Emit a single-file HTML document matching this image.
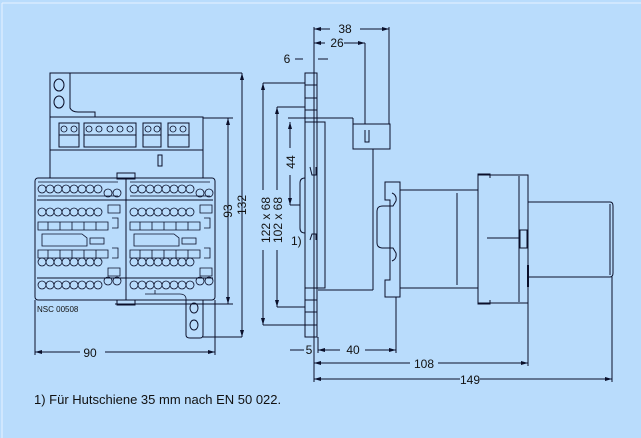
<!DOCTYPE html>
<html><head><meta charset="utf-8"><style>
html,body{margin:0;padding:0;background:#b9dcfc;}
svg{display:block}
text{font-family:"Liberation Sans",Arial,sans-serif;fill:#111;}
</style></head><body>
<svg width="641" height="438" viewBox="0 0 641 438" xmlns="http://www.w3.org/2000/svg">
<rect x="0" y="0" width="641" height="438" fill="#b9dcfc"/>
<line x1="2" y1="3" x2="2" y2="438" stroke="#e8f2ff" stroke-width="1"/>
<line x1="2" y1="3" x2="641" y2="3" stroke="#e8f2ff" stroke-width="1"/>
<g fill="none" stroke="#0a0f2a" stroke-width="1">
<!-- LEFT VIEW -->
<path d="M50,178 V73 H70 V108 Q72,112 78,112 H95 V117"/>
<ellipse cx="59" cy="85" rx="5" ry="6"/><ellipse cx="59" cy="102" rx="5" ry="6"/>
<rect x="50" y="117" width="153" height="33"/>
<line x1="203" y1="150" x2="203" y2="178"/>
<line x1="70" y1="73" x2="242" y2="73"/>
<line x1="203" y1="118" x2="233" y2="118"/>
<rect x="59" y="123" width="20" height="24"/><line x1="59" y1="135" x2="79" y2="135"/>
<rect x="84" y="123" width="52" height="24"/><line x1="84" y1="135" x2="136" y2="135"/>
<rect x="143" y="123" width="18" height="24"/><line x1="143" y1="135" x2="161" y2="135"/>
<rect x="168" y="123" width="21" height="24"/><line x1="168" y1="135" x2="189" y2="135"/>
<g stroke-width="0.8">
<circle cx="64" cy="129" r="3"/><circle cx="74" cy="129" r="3"/>
<circle cx="89" cy="129" r="3"/><circle cx="99" cy="129" r="3"/><circle cx="110" cy="129" r="3"/><circle cx="120" cy="129" r="3"/><circle cx="130" cy="129" r="3"/>
<circle cx="148" cy="129" r="3"/><circle cx="157" cy="129" r="3"/>
<circle cx="173" cy="129" r="3"/><circle cx="183" cy="129" r="3"/>
</g>
<rect x="158" y="155" width="4" height="11"/>
<rect x="35" y="178" width="180" height="122" rx="3"/>
<line x1="126" y1="178" x2="126" y2="300"/>
<rect x="117" y="173" width="18" height="6"/>
<rect x="117" y="300" width="18" height="5"/>
<line x1="37" y1="200" x2="213" y2="200"/>
<line x1="37" y1="278" x2="213" y2="278"/>
<g stroke-width="0.8">
<path d="M38,182 h80 M38,196 h80 M130,182 h80 M130,196 h80"/>
<g>
<circle cx="42" cy="189" r="4"/><circle cx="50" cy="189" r="4"/><circle cx="58" cy="189" r="4"/><circle cx="66" cy="189" r="4"/><circle cx="74" cy="189" r="4"/><circle cx="82" cy="189" r="4"/><circle cx="90" cy="189" r="4"/><circle cx="98" cy="189" r="4"/><circle cx="108" cy="193" r="4"/><circle cx="117" cy="193" r="4"/>
<circle cx="134" cy="189" r="4"/><circle cx="142" cy="189" r="4"/><circle cx="150" cy="189" r="4"/><circle cx="158" cy="189" r="4"/><circle cx="166" cy="189" r="4"/><circle cx="174" cy="189" r="4"/><circle cx="182" cy="189" r="4"/><circle cx="190" cy="189" r="4"/><circle cx="200" cy="193" r="4"/><circle cx="209" cy="193" r="4"/>
<circle cx="42" cy="212" r="4"/><circle cx="50" cy="212" r="4"/><circle cx="58" cy="212" r="4"/><circle cx="66" cy="212" r="4"/><circle cx="74" cy="212" r="4"/><circle cx="82" cy="212" r="4"/><circle cx="90" cy="212" r="4"/><circle cx="98" cy="212" r="4"/>
<circle cx="134" cy="212" r="4"/><circle cx="142" cy="212" r="4"/><circle cx="150" cy="212" r="4"/><circle cx="158" cy="212" r="4"/><circle cx="166" cy="212" r="4"/><circle cx="174" cy="212" r="4"/><circle cx="182" cy="212" r="4"/><circle cx="190" cy="212" r="4"/>
<circle cx="42" cy="262" r="4"/><circle cx="50" cy="262" r="4"/><circle cx="58" cy="262" r="4"/><circle cx="66" cy="262" r="4"/><circle cx="74" cy="262" r="4"/><circle cx="82" cy="262" r="4"/><circle cx="90" cy="262" r="4"/><circle cx="98" cy="262" r="4"/>
<circle cx="134" cy="262" r="4"/><circle cx="142" cy="262" r="4"/><circle cx="150" cy="262" r="4"/><circle cx="158" cy="262" r="4"/><circle cx="166" cy="262" r="4"/><circle cx="174" cy="262" r="4"/><circle cx="182" cy="262" r="4"/><circle cx="190" cy="262" r="4"/>
<circle cx="42" cy="285" r="4"/><circle cx="50" cy="285" r="4"/><circle cx="58" cy="285" r="4"/><circle cx="66" cy="285" r="4"/><circle cx="74" cy="285" r="4"/><circle cx="82" cy="285" r="4"/><circle cx="90" cy="285" r="4"/><circle cx="98" cy="285" r="4"/><circle cx="108" cy="281" r="4"/><circle cx="117" cy="281" r="4"/>
<circle cx="134" cy="285" r="4"/><circle cx="142" cy="285" r="4"/><circle cx="150" cy="285" r="4"/><circle cx="158" cy="285" r="4"/><circle cx="166" cy="285" r="4"/><circle cx="174" cy="285" r="4"/><circle cx="182" cy="285" r="4"/><circle cx="190" cy="285" r="4"/><circle cx="200" cy="281" r="4"/><circle cx="209" cy="281" r="4"/>
</g>
<path d="M38,222 h70 v8 h-70z M38,250 h70 v8 h-70z M130,222 h70 v8 h-70z M130,250 h70 v8 h-70z"/>
<path d="M48,222v8M60,222v8M72,222v8M84,222v8M96,222v8 M48,250v8M60,250v8M72,250v8M84,250v8M96,250v8 M140,222v8M152,222v8M164,222v8M176,222v8M188,222v8 M140,250v8M152,250v8M164,250v8M176,250v8M188,250v8"/>
<path d="M42,234 h40 l5,4 v8 h-45z M134,234 h40 l5,4 v8 h-45z"/>
<rect x="90" y="238" width="14" height="6"/><rect x="182" y="238" width="14" height="6"/>
<path d="M108,205 h12 v8 h-12z M108,268 h12 v8 h-12z M200,205 h12 v8 h-12z M200,268 h12 v8 h-12z"/>
<path d="M112,218 h6 v10 h-6 M112,248 h6 v10 h-6 M204,218 h6 v10 h-6 M204,248 h6 v10 h-6"/>
<path d="M145,294 h35 q5,0 6,4 v2"/>
<line x1="155" y1="294" x2="155" y2="290"/>
</g>
<path d="M186,300 V335 Q186,338 190,338 H200 Q203,338 203,335 V300"/>
<ellipse cx="194" cy="308" rx="4" ry="5"/><ellipse cx="194" cy="325" rx="4" ry="5"/>
<line x1="115" y1="304" x2="233" y2="304"/>
<line x1="203" y1="337" x2="242" y2="337"/>
<line x1="242" y1="73" x2="242" y2="337"/>
<line x1="228" y1="118" x2="228" y2="304"/>
<line x1="35" y1="300" x2="35" y2="355"/><line x1="215" y1="300" x2="215" y2="355"/>
<line x1="35" y1="352" x2="80" y2="352"/><line x1="105" y1="352" x2="215" y2="352"/>
<!-- RIGHT VIEW -->
<line x1="314" y1="27" x2="314" y2="382"/>
<rect x="305" y="73" width="12" height="264"/>
<path d="M305,85 h12 M305,98 h12 M305,110 h12 M305,300 h12 M305,312 h12 M305,325 h12"/>
<rect x="305" y="122" width="20" height="166"/>
<line x1="288" y1="118" x2="353" y2="118"/>
<path d="M353,118 V124 H390 V149 H353 Z"/>
<path d="M365,130 v12 h4 v-12"/>
<line x1="373" y1="149" x2="373" y2="290"/><line x1="318" y1="290" x2="373" y2="290"/>
<line x1="389" y1="27" x2="389" y2="124"/><line x1="365" y1="43" x2="365" y2="124"/>
<path d="M305,178 q-5,0 -5,5 v45 q0,5 5,5"/>
<path d="M310,167 l2,8 h4 v-8"/><path d="M310,240 l2,-6 h4 v6"/>
<path d="M385,182 H400 V297 H385 V280 H390 V200 H385 Z"/>
<path d="M392,193 q5,2 4,8 l-3,5 h-10 q-6,0 -6,5 v32 q0,5 6,5 h10 l3,5 q1,6 -4,8"/>
<path d="M400,190 H478 V288 H400"/>
<path d="M478,175 H528 V303 H478 Z"/>
<line x1="519" y1="176" x2="519" y2="302"/>
<path d="M457,193 V285"/>
<path d="M478,178 V174 H490 V178 M478,300 V304 H490 V300"/>
<line x1="487" y1="238" x2="520" y2="238"/>
<rect x="520" y="230" width="7" height="18"/>
<path d="M528,202 H610 Q613,202 613,206 V273 Q613,277 610,277 H528"/>
<line x1="610" y1="204" x2="610" y2="275"/>
<line x1="528" y1="265" x2="528" y2="287" stroke-width="2"/>
<line x1="396" y1="297" x2="396" y2="353"/>
<line x1="528" y1="303" x2="528" y2="366"/>
<line x1="612" y1="277" x2="612" y2="382"/>
<line x1="318" y1="337" x2="318" y2="353"/>
<line x1="314" y1="29" x2="330" y2="29"/><line x1="360" y1="29" x2="389" y2="29"/>
<line x1="314" y1="43" x2="325" y2="43"/><line x1="344" y1="43" x2="365" y2="43"/>
<line x1="295" y1="59" x2="303" y2="59"/><line x1="318" y1="59" x2="328" y2="59"/>
<line x1="263" y1="83" x2="263" y2="190"/><line x1="263" y1="250" x2="263" y2="325"/>
<line x1="263" y1="83" x2="305" y2="83"/><line x1="263" y1="325" x2="305" y2="325"/>
<line x1="277" y1="107" x2="277" y2="190"/><line x1="277" y1="250" x2="277" y2="307"/>
<line x1="277" y1="107" x2="305" y2="107"/><line x1="277" y1="307" x2="305" y2="307"/>
<line x1="290" y1="122" x2="290" y2="148"/><line x1="290" y1="175" x2="290" y2="205"/>
<line x1="290" y1="205" x2="300" y2="205"/>
<line x1="290" y1="350" x2="304" y2="350"/><line x1="318" y1="350" x2="340" y2="350"/><line x1="365" y1="350" x2="396" y2="350"/>
<line x1="314" y1="363" x2="410" y2="363"/><line x1="438" y1="363" x2="528" y2="363"/>
<line x1="314" y1="379" x2="460" y2="379"/><line x1="480" y1="379" x2="612" y2="379"/>
</g>
<g fill="#0a0f2a">
<path d="M242,73 l-2,7 h4z M242,337 l-2,-7 h4z M228,118 l-2,7 h4z M228,304 l-2,-7 h4z"/>
<path d="M35,352 l7,-2 v4z M215,352 l-7,-2 v4z"/>
<path d="M314,29 l7,-2 v4z M389,29 l-7,-2 v4z M314,43 l7,-2 v4z M365,43 l-7,-2 v4z"/>
<path d="M263,83 l-2,7 h4z M263,325 l-2,-7 h4z M277,107 l-2,7 h4z M277,307 l-2,-7 h4z M290,122 l-2,7 h4z M290,205 l-2,-7 h4z"/>
<path d="M318,350 l7,-2 v4z M396,350 l-7,-2 v4z M314,363 l7,-2 v4z M528,363 l-7,-2 v4z M314,379 l7,-2 v4z M612,379 l-7,-2 v4z"/>
</g>
<text x="37" y="312" font-size="8">NSC 00508</text>
<text x="90" y="357" font-size="12" text-anchor="middle">90</text>
<text x="232" y="211" font-size="12" text-anchor="middle" transform="rotate(-90 232 211)">93</text>
<text x="246" y="205" font-size="12" text-anchor="middle" transform="rotate(-90 246 205)">132</text>
<text x="345" y="33" font-size="12" text-anchor="middle">38</text>
<text x="337" y="47" font-size="12" text-anchor="middle">26</text>
<text x="287" y="63" font-size="12" text-anchor="middle">6</text>
<text x="270" y="220" font-size="12" text-anchor="middle" transform="rotate(-90 270 220)">122 x 68</text>
<text x="282" y="220" font-size="12" text-anchor="middle" transform="rotate(-90 282 220)">102 x 68</text>
<text x="295" y="162" font-size="12" text-anchor="middle" transform="rotate(-90 295 162)">44</text>
<text x="291" y="245" font-size="12">1)</text>
<text x="309" y="354" font-size="12" text-anchor="middle">5</text>
<text x="353" y="354" font-size="12" text-anchor="middle">40</text>
<text x="424" y="368" font-size="12" text-anchor="middle">108</text>
<text x="470" y="384" font-size="12" text-anchor="middle">149</text>
<text x="34" y="404" font-size="13">1) Für Hutschiene 35 mm nach EN 50 022.</text>
</svg>
</body></html>
